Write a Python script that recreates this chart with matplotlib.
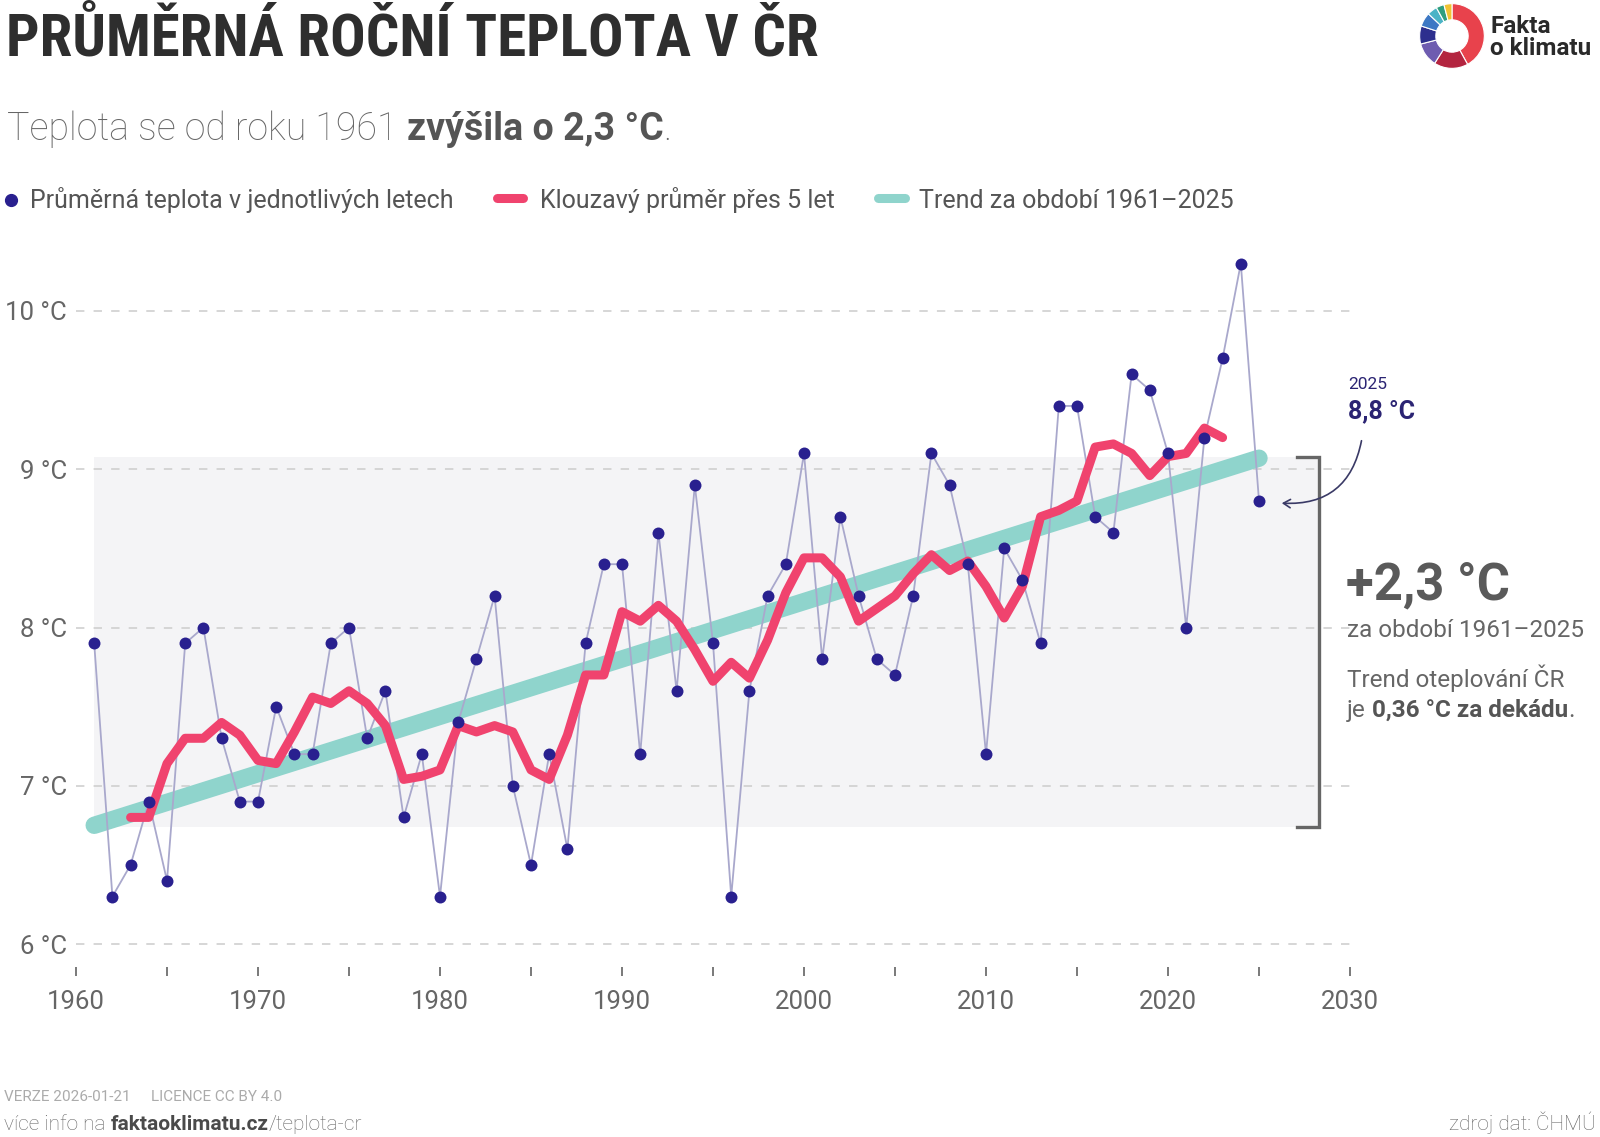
import matplotlib
matplotlib.use("Agg")
import matplotlib.pyplot as plt
from matplotlib import font_manager as fm
from matplotlib.font_manager import FontProperties
from matplotlib.patches import FancyArrowPatch
from matplotlib.lines import Line2D

# ---------------- data ----------------
years = list(range(1961, 2026))
temps = [7.9, 6.3, 6.5, 6.9, 6.4, 7.9, 8.0, 7.3, 6.9, 6.9,
         7.5, 7.2, 7.2, 7.9, 8.0, 7.3, 7.6, 6.8, 7.2, 6.3,
         7.4, 7.8, 8.2, 7.0, 6.5, 7.2, 6.6, 7.9, 8.4, 8.4,
         7.2, 8.6, 7.6, 8.9, 7.9, 6.3, 7.6, 8.2, 8.4, 9.1,
         7.8, 8.7, 8.2, 7.8, 7.7, 8.2, 9.1, 8.9, 8.4, 7.2,
         8.5, 8.3, 7.9, 9.4, 9.4, 8.7, 8.6, 9.6, 9.5, 9.1,
         8.0, 9.2, 9.7, 10.3, 8.8]

ma_years = list(range(1963, 2024))
ma_vals = [6.80, 6.80, 7.14, 7.30, 7.30, 7.40, 7.32, 7.16, 7.14, 7.34,
           7.56, 7.52, 7.60, 7.52, 7.38, 7.04, 7.06, 7.10, 7.38, 7.34,
           7.38, 7.34, 7.10, 7.04, 7.32, 7.70, 7.70, 8.10, 8.04, 8.14,
           8.04, 7.86, 7.66, 7.78, 7.68, 7.92, 8.22, 8.44, 8.44, 8.32,
           8.04, 8.12, 8.20, 8.34, 8.46, 8.36, 8.42, 8.26, 8.06, 8.26,
           8.70, 8.74, 8.80, 9.14, 9.16, 9.10, 8.96, 9.08, 9.10, 9.26,
           9.20]

trend_years = [1961, 2025]
trend_vals = [6.75, 9.07]
band_low, band_high = 6.74, 9.08

xtick_major = [1960, 1970, 1980, 1990, 2000, 2010, 2020, 2030]
xtick_minor = [1965, 1975, 1985, 1995, 2005, 2015, 2025]
yticks = [6, 7, 8, 9, 10]
ytick_labels = ["6 °C", "7 °C", "8 °C", "9 °C", "10 °C"]

logo_shares = [0.42, 0.17, 0.12, 0.09, 0.07, 0.05, 0.04, 0.04]
logo_colors = ["#e8424c", "#b3243f", "#6e5cb0", "#2d2f8e", "#3d78c4",
               "#4ab3c6", "#2f9e7e", "#f0c233"]

# ---------------- styles ----------------
NAVY = "#29208f"
PINK = "#f0436e"
TEAL = "#8fd4cc"
GREY_TXT = "#666666"
DARK_TXT = "#555555"

plt.rcParams["font.family"] = ["Roboto", "DejaVu Sans"]

W, H = 1600, 1137
fig = plt.figure(figsize=(W / 100, H / 100), dpi=100)
fig.patch.set_facecolor("white")


def fx(px):
    return px / W


def fy(py):
    return 1 - py / H


# axes placement: 1960 -> x=76, 2030 -> x=1350 ; 6 C -> y=944, 10 C -> y=311
per = (944 - 311) / 4.0
y_lo, y_hi = 5.855, 10.6
py_lo = 944 + (6 - y_lo) * per
py_hi = 944 - (y_hi - 6) * per
ax = fig.add_axes([fx(76), fy(py_lo), fx(1350) - fx(76), (py_lo - py_hi) / H])
ax.set_xlim(1960, 2030)
ax.set_ylim(y_lo, y_hi)
for s in ax.spines.values():
    s.set_visible(False)
ax.set_facecolor("none")

# band
ax.fill_between([1961, 2028.3], band_low, band_high, color="#f4f4f6", lw=0, zorder=0)
# gridlines
for yv in yticks:
    ax.plot([1960, 2030], [yv, yv], color="#cccccc", lw=1.1,
            linestyle=(0, (5.5, 6)), zorder=1)
# bracket
ax.plot([2027.1, 2028.3, 2028.3, 2027.1], [band_high, band_high, band_low, band_low],
        color="#666666", lw=2.4, solid_joinstyle="miter", zorder=2, clip_on=False)
# trend
ax.plot(trend_years, trend_vals, color=TEAL, lw=12.5, solid_capstyle="round", zorder=3)
# thin yearly line
ax.plot(years, temps, color="#a9a8cc", lw=1.3, zorder=4)
# moving average
ax.plot(ma_years, ma_vals, color=PINK, lw=6.5, solid_capstyle="round",
        solid_joinstyle="round", zorder=5)
# dots
ax.scatter(years, temps, s=8.6 ** 2, color=NAVY, lw=0, zorder=6, clip_on=False)

ax.set_xticks(xtick_major)
ax.set_xticklabels([str(v) for v in xtick_major])
ax.set_xticks(xtick_minor, minor=True)
ax.tick_params(axis="x", which="both", direction="out", length=6.5, width=1.1,
               color="#555555", pad=10, labelsize=18.5, labelcolor=GREY_TXT)
ax.set_yticks(yticks)
ax.set_yticklabels(ytick_labels)
ax.tick_params(axis="y", length=0, pad=6.5, labelsize=18.5, labelcolor=GREY_TXT)

renderer = fig.canvas.get_renderer()


def space_w(size, weight):
    a = fig.text(0, 0, "a a", fontsize=size, fontweight=weight)
    b = fig.text(0, 0, "aa", fontsize=size, fontweight=weight)
    w = a.get_window_extent(renderer).width - b.get_window_extent(renderer).width
    a.remove()
    b.remove()
    return w


def rich(x, y, parts, size):
    cur = x
    for txt, wt, col in parts:
        n = len(txt) - len(txt.lstrip(" "))
        cur += n * space_w(size, wt)
        t = fig.text(fx(cur), fy(y), txt.lstrip(" "), fontsize=size, fontweight=wt,
                     color=col, va="baseline", ha="left")
        cur += t.get_window_extent(renderer).width
    return cur


# ---------------- title ----------------
cands = []
pref = ["Roboto Condensed", "Open Sans Condensed", "Liberation Sans Narrow",
        "DejaVu Sans Condensed", "DejaVu Sans"]
for f in fm.fontManager.ttflist:
    nm = f.name
    st = str(f.stretch)
    isc = ("Condensed" in nm or "Narrow" in nm or "condensed" in st)
    try:
        wt = int(f.weight)
    except Exception:
        wt = 700 if "bold" in str(f.weight) else 400
    if isc and wt >= 600:
        cands.append(f)
title_fp = None
if cands:
    def rank(f):
        nm = f.name + (" Condensed" if "condensed" in str(f.stretch) and "Condensed" not in f.name else "")
        for i, p in enumerate(pref):
            if p == nm:
                return (i, abs(int(f.weight) - 700) if str(f.weight).isdigit() else 0)
        return (len(pref), 0)
    cands.sort(key=rank)
    title_fp = FontProperties(fname=cands[0].fname)
else:
    title_fp = FontProperties(family="Roboto", weight="bold")

title_txt = "PRŮMĚRNÁ ROČNÍ TEPLOTA V ČR"
fs = 42.5
tt = fig.text(fx(6), fy(56), title_txt, fontproperties=title_fp, fontsize=fs,
              color="#2e2e2e", va="baseline", ha="left")
w = tt.get_window_extent(renderer).width
if w > 838:
    tt.set_fontsize(fs * 838 / w)

# ---------------- subtitle ----------------
rich(7, 140, [("Teplota se od roku 1961", "light", "#666666"),
              (" zvýšila o 2,3 °C", "bold", "#555555"),
              (".", "light", "#666666")], 27)

# ---------------- legend ----------------
leg_y = 200
fig.add_artist(Line2D([fx(11)], [fy(leg_y)], marker="o", markersize=8.5, color=NAVY, lw=0))
fig.text(fx(30), fy(leg_y + 8), "Průměrná teplota v jednotlivých letech", fontsize=18,
         color=DARK_TXT, va="baseline")
fig.add_artist(Line2D([fx(497), fx(523)], [fy(leg_y - 2), fy(leg_y - 2)], color=PINK, lw=6.5,
                      solid_capstyle="round"))
fig.text(fx(540), fy(leg_y + 8), "Klouzavý průměr přes 5 let", fontsize=18,
         color=DARK_TXT, va="baseline")
fig.add_artist(Line2D([fx(878), fx(905)], [fy(leg_y - 2), fy(leg_y - 2)], color=TEAL, lw=6.5,
                      solid_capstyle="round"))
fig.text(fx(919), fy(leg_y + 8), "Trend za období 1961–2025", fontsize=18,
         color=DARK_TXT, va="baseline")

# ---------------- right annotations ----------------
fig.text(fx(1348), fy(389), "2025", fontsize=12.5, color="#2b2473", va="baseline")
fig.text(fx(1348), fy(418), "8,8 °C", fontsize=18, fontweight="bold", color="#2b2473",
         va="baseline")
arr = FancyArrowPatch((fx(1362), fy(438)), (fx(1279), fy(503)), transform=fig.transFigure,
                      connectionstyle="arc3,rad=-0.45", arrowstyle="->,head_length=5,head_width=3",
                      color="#3a3a66", lw=1.2)
fig.add_artist(arr)

fig.text(fx(1346), fy(599), "+2,3 °C", fontsize=36.5, fontweight="bold", color="#5a5a5a",
         va="baseline")
fig.text(fx(1347), fy(637), "za období 1961–2025", fontsize=17.5, color=GREY_TXT, va="baseline")
fig.text(fx(1347), fy(687), "Trend oteplování ČR", fontsize=17.5, color=GREY_TXT, va="baseline")
rich(1347, 717, [("je", "normal", GREY_TXT),
                 (" 0,36 °C za dekádu", "bold", DARK_TXT),
                 (".", "normal", GREY_TXT)], 17.5)

# ---------------- logo ----------------
lax = fig.add_axes([fx(1452 - 33), fy(36 + 33), 66 / W, 66 / H])
lax.pie(logo_shares, colors=logo_colors, startangle=90, counterclock=False,
        wedgeprops=dict(width=0.5, edgecolor="white", linewidth=0.8))
lax.set_xlim(-1.02, 1.02)
lax.set_ylim(-1.02, 1.02)
lax.set_aspect("equal")
lax.axis("off")
fig.text(fx(1490), fy(33), "Fakta", fontsize=17.5, fontweight="bold", color="#2a2a2a",
         va="baseline")
fig.text(fx(1490), fy(55), "o klimatu", fontsize=17.5, fontweight="bold", color="#2a2a2a",
         va="baseline")

# ---------------- footer ----------------
fig.text(fx(4), fy(1101), "VERZE 2026-01-21", fontsize=11, fontweight="normal",
         color="#ababab", va="baseline")
fig.text(fx(151), fy(1101), "LICENCE CC BY 4.0", fontsize=11, fontweight="normal",
         color="#ababab", va="baseline")
rich(4, 1130, [("více info na", "light", GREY_TXT),
               (" faktaoklimatu.cz", "bold", "#4a4a4a"),
               ("/teplota-cr", "light", GREY_TXT)], 15)
fig.text(fx(1596), fy(1130), "zdroj dat: ČHMÚ", fontsize=15, fontweight="light",
         color=GREY_TXT, va="baseline", ha="right")

fig.savefig("out.png", dpi=100, facecolor="white")
